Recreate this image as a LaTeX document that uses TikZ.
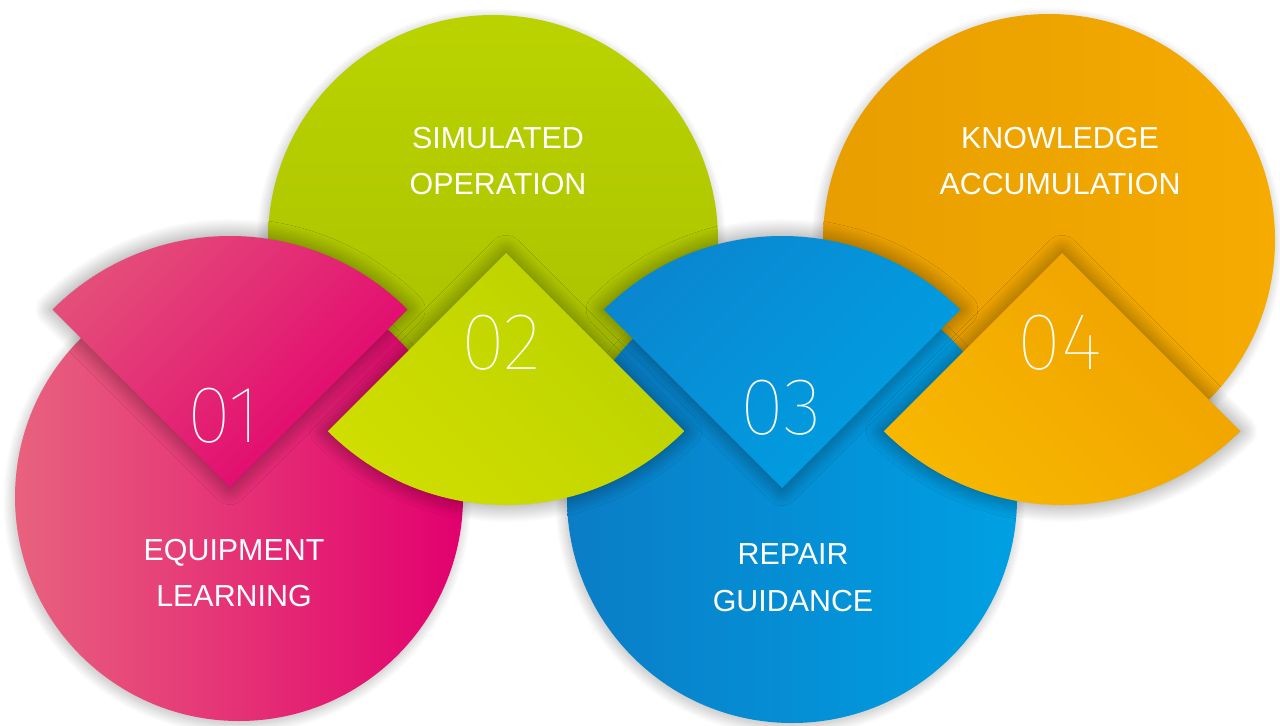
\documentclass[tikz,border=0pt]{standalone}
\usepackage{fontspec}
\setmainfont{Liberation Sans}
\IfFontExistsTF{Fira Sans Thin}{\newfontfamily\numfont{Fira Sans Thin}}{%
	\IfFontExistsTF{Fira Sans ExtraLight}{\newfontfamily\numfont{Fira Sans ExtraLight}}{%
		\IfFontExistsTF{Fira Sans Light}{\newfontfamily\numfont{Fira Sans Light}}{%
			\IfFontExistsTF{Lato Light}{\newfontfamily\numfont{Lato Light}}{%
				\newfontfamily\numfont{Liberation Sans}}}}}
\usepackage{tikz}
\usetikzlibrary{shadows.blur}

\definecolor{pinkLight}{HTML}{E8627E}
\definecolor{pinkDeep}{HTML}{E2006E}
\definecolor{pinkWedge}{HTML}{E4507A}
\definecolor{greenTop}{HTML}{BAD300}
\definecolor{greenLow}{HTML}{A6BD00}
\definecolor{greenLight}{HTML}{D0DE00}
\definecolor{greenWedge}{HTML}{BBD200}
\definecolor{blueLeft}{HTML}{0A7DC6}
\definecolor{blueRight}{HTML}{00A0E3}
\definecolor{blueWedge}{HTML}{0A86CF}
\definecolor{orangeLeft}{HTML}{E89E00}
\definecolor{orangeRight}{HTML}{F5AB00}
\definecolor{orangeLight}{HTML}{F7B800}
\definecolor{orangeWedge}{HTML}{F0A100}

\begin{document}
\begin{tikzpicture}[x=0.02cm, y=0.02cm,
	disc_shadow/.style={blur shadow={shadow xshift=-1pt, shadow yshift=-2pt, shadow blur radius=6pt, shadow blur steps=24, shadow opacity=28}},
	wedge_shadow/.style={blur shadow={shadow xshift=0pt, shadow yshift=0pt, shadow blur radius=10pt, shadow blur steps=30, shadow opacity=45}},
	step_label/.style={text=white, align=center, font=\fontsize{17.3}{26.6}\selectfont},
	step_number/.style={text=white, inner sep=0pt, font=\numfont\fontsize{46}{46}\selectfont}]
	\useasboundingbox (0,0) rectangle (1280,725);
	\coordinate (green_center) at (493,485);
	\coordinate (orange_center) at (1049,485);
	\coordinate (pink_center) at (239,228);
	\coordinate (blue_center) at (792,227);
	\coordinate (pink_tip) at (230,238);
	\coordinate (green_tip) at (506,472);
	\coordinate (blue_tip) at (782,237);
	\coordinate (orange_tip) at (1062,472);
	\shade [disc_shadow, top color=greenTop, bottom color=greenLow] (green_center) circle [radius=225];
	\shade [disc_shadow, left color=orangeLeft, right color=orangeRight] (orange_center) circle [radius=226];
	\shade [disc_shadow, left color=pinkLight, right color=pinkDeep] (pink_center) circle [radius=224];
	\shade [disc_shadow, left color=blueLeft, right color=blueRight] (blue_center) circle [radius=225];
	\shade [wedge_shadow, top color=pinkWedge, bottom color=pinkDeep, shading angle=45] (pink_tip) -- ++(45:251) arc [start angle=45, end angle=135, radius=251] -- cycle;
	\shade [wedge_shadow, top color=greenWedge, bottom color=greenLight, shading angle=-45] (green_tip) -- ++(-45:252) arc [start angle=-45, end angle=-135, radius=252] -- cycle;
	\shade [wedge_shadow, top color=blueWedge, bottom color=blueRight, shading angle=45] (blue_tip) -- ++(45:252) arc [start angle=45, end angle=135, radius=252] -- cycle;
	\shade [wedge_shadow, top color=orangeWedge, bottom color=orangeLight, shading angle=-45] (orange_tip) -- ++(-45:252) arc [start angle=-45, end angle=-135, radius=252] -- cycle;
	\node [step_number] (num_one) at (224,309) {01};
	\node [step_number] (num_two) at (501,382) {02};
	\node [step_number] (num_three) at (781,317) {03};
	\node [step_number] (num_four) at (1060,382) {04};
	\node [step_label] (equip_text) at (234,152) {EQUIPMENT\\LEARNING};
	\node [step_label] (simul_text) at (498,564) {SIMULATED\\OPERATION};
	\node [step_label] (repair_text) at (793,147) {REPAIR\\GUIDANCE};
	\node [step_label] (knowl_text) at (1060,564) {KNOWLEDGE\\ACCUMULATION};
\end{tikzpicture}
\end{document}
